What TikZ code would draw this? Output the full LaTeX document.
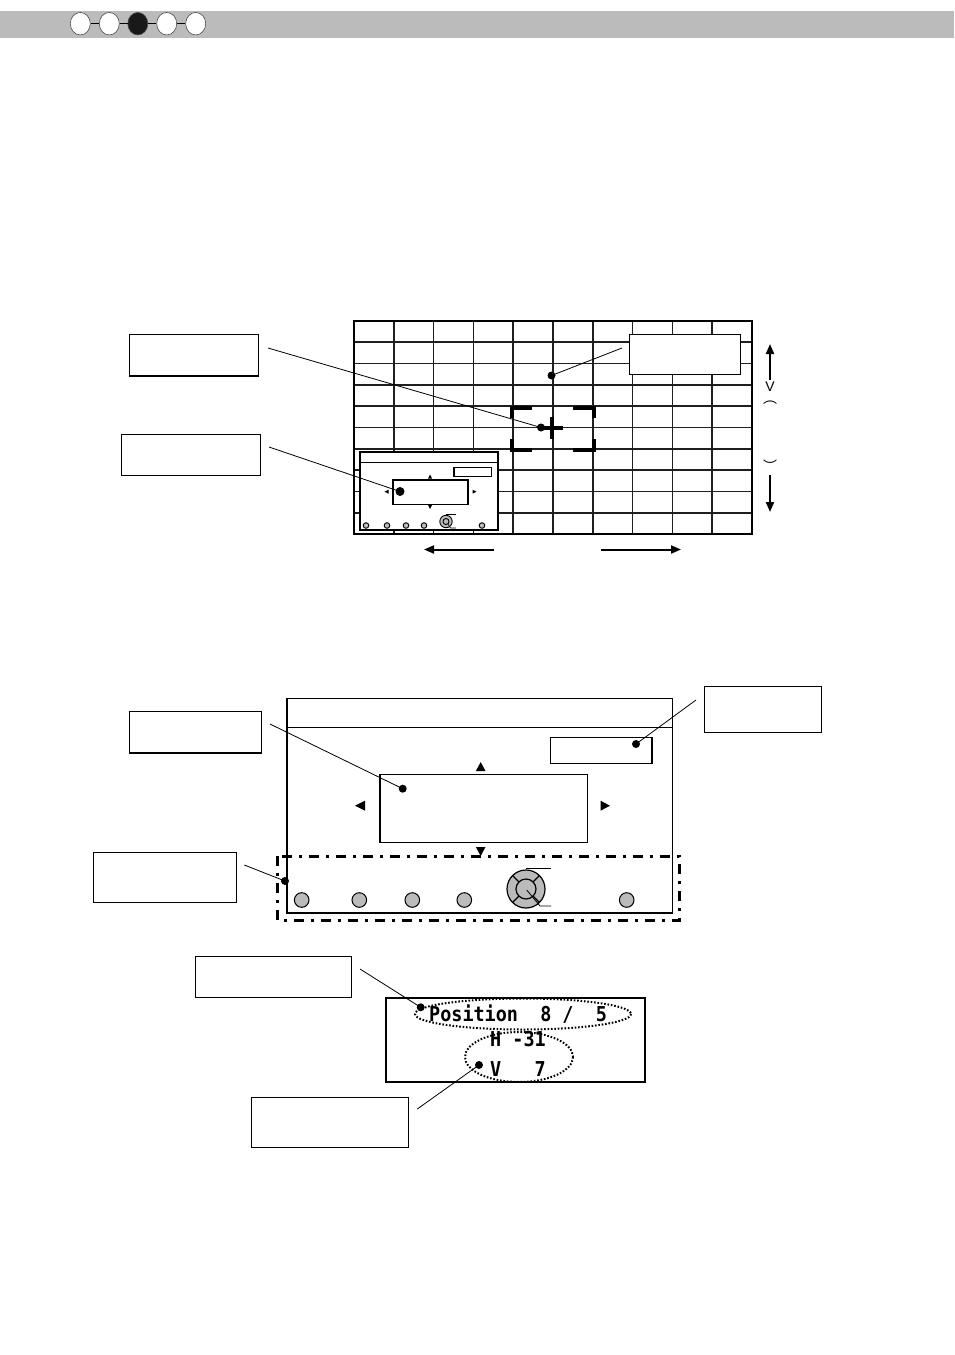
\documentclass[tikz,border=0pt]{standalone}
\usepackage{fontspec}
\setsansfont{Liberation Sans}
\newfontfamily\lcdfont[FakeStretch=0.9]{DejaVu Sans Mono}
\newfontfamily\cjkfont{Noto Sans CJK JP}
\usetikzlibrary{shapes.geometric,arrows.meta,calc}
\definecolor{hdrgray}{HTML}{BBBBBB}
\definecolor{btngray}{HTML}{BBBBBB}
\begin{document}
\begin{tikzpicture}[x=1pt,y=-1pt,
  gridline/.style={line width=1.7,draw=black!88},
  callbox/.style={draw,fill=white,line width=1,inner sep=0},
  leader/.style={line width=0.8},
  dot/.style={circle,fill=black,inner sep=0,minimum size=8},
  hcircle/.style={ellipse,draw=black!70,line width=0.6,fill=white,minimum width=20,minimum height=22.5,inner sep=0},
  btn/.style={fill=btngray,draw=black,line width=1},
  bigarrow/.style={line width=2,-{Triangle[length=10pt,width=8pt]}},
  frame/.style={draw=black,line width=1.8,fill=white},
  lcd/.style={font=\lcdfont\bfseries\fontsize{20.5}{20.5}\selectfont,inner sep=0,anchor=base west},
  lcdring/.style={line width=2,dash pattern=on 1.6pt off 1.8pt}
]
\useasboundingbox (0,0) rectangle (954,1355);
\fill[white] (0,0) rectangle (954,1355);

% ---------- header ----------
\fill[hdrgray] (0,11) rectangle (954,38);
\node[hcircle] (h1) at (80.3,23.7) {};
\node[hcircle] (h2) at (109.3,23.7) {};
\node[hcircle,fill=black!90] (h3) at (137.8,23.7) {};
\node[hcircle] (h4) at (166.7,23.7) {};
\node[hcircle] (h5) at (195.7,23.7) {};
\draw[line width=1] (h1) -- (h2);
\draw[line width=1] (h2) -- (h3);
\draw[line width=1] (h3) -- (h4);
\draw[line width=1] (h4) -- (h5);

% ---------- diagram 1: grid ----------
\foreach \i in {1,...,9} {
  \draw[gridline] (354+\i*39.8,321) -- (354+\i*39.8,534);
  \draw[gridline] (354,321+\i*21.3) -- (752,321+\i*21.3);
}
\draw[line width=2] (354,321) rectangle (752,534);

% target brackets and plus
\begin{scope}[line width=4]
  \draw (511.5,418) -- (511.5,407.5) -- (532,407.5);
  \draw (573,407.5) -- (593.5,407.5) -- (593.5,418);
  \draw (511.5,439) -- (511.5,449.5) -- (532,449.5);
  \draw (573,449.5) -- (593.5,449.5) -- (593.5,439);
  \draw (541,427.5) -- (563,427.5);
  \draw (552,416.5) -- (552,438.5);
\end{scope}

% inset screen
\draw[frame] (360,452) rectangle (498,530);
\draw[line width=1] (360,462.5) -- (498,462.5);
\draw[line width=1.2] (454,467.5) rectangle (491.5,476.5);
\draw[line width=1.2] (393,480) rectangle (468,504.5);
\fill (430,474.5) -- (432,478.5) -- (428,478.5) -- cycle;
\fill (430,509) -- (432,505) -- (428,505) -- cycle;
\fill (384.5,491.7) -- (388.5,489.7) -- (388.5,493.7) -- cycle;
\fill (476.5,491.7) -- (472.5,489.7) -- (472.5,493.7) -- cycle;
\foreach \x in {366,387,406,424,482} \filldraw[btn,line width=0.9] (\x,525.5) circle (2.8);
\filldraw[btn,line width=0.9] (446,521.5) circle (6.2);
\draw[line width=0.9] (446,521.5) circle (3);
\draw[line width=0.6] (446,514.5) -- (456,514.5);
\draw[line width=0.6] (448,524) -- (450.5,528) -- (456,528);

% callouts diagram 1
\node[callbox,minimum width=129,minimum height=40.7] (b1) at (193.8,354.7) {};
\draw[line width=2] (b1.south west) -- (b1.south east);
\node[callbox,minimum width=139,minimum height=41] (b2) at (191.2,454.8) {};
\node[callbox,minimum width=110.7,minimum height=40.3] (b3) at (685.3,354.2) {};

\node[dot] (d1) at (541,427.5) {};
\node[dot] (d3) at (551.5,375.5) {};
\node[dot,minimum size=9] (d2) at (400,491.5) {};
\coordinate (l1) at (268,348);
\coordinate (l3) at (622,348);
\coordinate (l2) at (269,447);
\draw[leader] (l1) -- (d1.center);
\draw[leader] (l3) -- (d3.center);
\draw[leader] (l2) -- (d2.center);

% arrows diagram 1
\coordinate (ha1) at (494,549.5);
\coordinate (ha2) at (424,549.5);
\coordinate (ha3) at (601,549.5);
\coordinate (ha4) at (681,549.5);
\draw[bigarrow] (ha1) -- (ha2);
\draw[bigarrow] (ha3) -- (ha4);
\coordinate (va1) at (770,380);
\coordinate (va2) at (770,344);
\coordinate (va3) at (770,475);
\coordinate (va4) at (770,512);
\draw[bigarrow] (va1) -- (va2);
\draw[bigarrow] (va3) -- (va4);
\node[font=\sffamily\fontsize{14}{14}\selectfont,inner sep=0] (vlab) at (770,387) {V};
\node[font=\cjkfont\fontsize{14}{14}\selectfont,inner sep=0,anchor=north] (vp1) at (770,400.5) {︵};
\node[font=\cjkfont\fontsize{14}{14}\selectfont,inner sep=0] (vp2) at (770,466) {︶};

% ---------- diagram 2 ----------
\draw[line width=1.6] (287,698.3) rectangle (672.3,912.7);
\draw[line width=0.8] (287,727.3) -- (672.3,727.3);
\draw[line width=1.2] (550.7,737.3) rectangle (652.3,763.3);
\draw[line width=1.8] (652.3,737.3) -- (652.3,763.3);
\draw[line width=1.2] (380,774.3) rectangle (587.3,842.3);
\fill (480.7,762) -- (485.5,771) -- (475.9,771) -- cycle;
\fill (480.7,856) -- (485.5,847) -- (475.9,847) -- cycle;
\fill (355,805.7) -- (365,800.7) -- (365,810.7) -- cycle;
\fill (610,805.7) -- (600.5,800.7) -- (600.5,810.7) -- cycle;
\draw[line width=2.6,dash pattern=on 10pt off 7pt on 3pt off 7pt] (277.3,856.3) rectangle (679.3,920.7);
\foreach \x in {301.7,359.3,412.3,464.3,626.7} \filldraw[btn] (\x,900) circle (7.3);
\filldraw[btn,line width=1.2] (526,889) circle (19);
\draw[line width=1.2] (526,889) circle (10);
\foreach \a in {45,135,225,315} \draw[line width=1.2] ($(526,889)+(\a:10)$) -- ($(526,889)+(\a:19)$);
\draw[line width=0.8] (526,868.3) -- (551,868.3);
\draw[line width=0.8] (526.7,890) -- (540,906) -- (551,906);

\node[callbox,minimum width=132.4,minimum height=41] (b4) at (195.5,732.2) {};
\draw[line width=2] (b4.south west) -- (b4.south east);
\node[callbox,minimum width=143.4,minimum height=50] (b5) at (165,877.3) {};
\node[callbox,minimum width=117.4,minimum height=46.3] (b6) at (763,709.2) {};
\node[dot] (d4) at (402.7,788.7) {};
\node[dot] (d6) at (636,744) {};
\node[dot] (d5) at (285,881) {};
\coordinate (l4) at (270,724);
\coordinate (l6) at (696,700);
\coordinate (l5) at (244.3,865);
\draw[leader] (l4) -- (d4.center);
\draw[leader] (l6) -- (d6.center);
\draw[leader] (l5) -- (d5.center);

% ---------- panel ----------
\draw[line width=2.2] (385.7,998.3) rectangle (645,1081.7);
\node[lcd] (t1) at (429,1021.7) {Position\ \ 8\ /\ \ 5};
\node[lcd] (t2) at (490,1046.7) {H\ -31};
\node[lcd] (t3) at (490,1076.5) {V\ \ \ 7};
\draw[lcdring] (523,1014) ellipse (108 and 15.5);
\draw[lcdring] (519,1057) ellipse (54 and 25);
\node[callbox,minimum width=156,minimum height=40.6] (b7) at (273.7,977) {};
\node[callbox,minimum width=156.6,minimum height=49.6] (b8) at (330,1122.5) {};
\node[dot] (d7) at (420.7,1007.3) {};
\node[dot] (d8) at (479,1065) {};
\coordinate (l7) at (360,969);
\coordinate (l8) at (417.3,1109);
\draw[leader] (l7) -- (d7.center);
\draw[leader] (l8) -- (d8.center);
\end{tikzpicture}
\end{document}
